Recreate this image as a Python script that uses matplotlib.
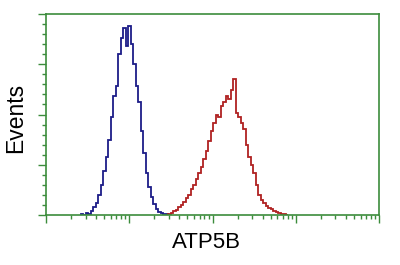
import numpy as np
import matplotlib
matplotlib.use("Agg")
import matplotlib.pyplot as plt
from matplotlib.ticker import MultipleLocator, LogLocator, NullFormatter

# histogram bins in log10 units
bin_width = 0.03

blue_start = 0.42
blue_counts = [1, 0, 2, 1, 4, 8, 12, 20, 30, 44, 58, 75, 98, 118, 128, 160, 176, 186,
               168, 188, 170, 150, 128, 112, 84, 62, 42, 28, 18, 11, 6, 3, 2, 1, 1, 0]

red_start = 1.47
red_counts = [1, 2, 4, 5, 8, 10, 13, 17, 20, 26, 30, 36, 42, 48, 56, 64, 74, 84, 92, 100,
              98, 108, 112, 118, 115, 124, 135, 102, 98, 92, 86, 70, 58, 50, 42, 30, 20, 15,
              12, 9, 7, 6, 4, 3, 2, 1, 1, 0]

xlabel = "ATP5B"
ylabel = "Events"

green = "#3c8c3c"

fig = plt.figure(figsize=(4, 2.65), dpi=100)
ax = fig.add_axes([0.115, 0.1887, 0.8325, 0.7583])

def edges(start, n):
    return 10 ** (start + bin_width * np.arange(n + 1))

ax.stairs(blue_counts, edges(blue_start, len(blue_counts)), color="#1c1c88", lw=1.3)
ax.stairs(red_counts, edges(red_start, len(red_counts)), color="#b02222", lw=1.3)

ax.set_xscale("log")
ax.set_xlim(1, 1e4)
ax.set_ylim(0, 200)

ax.xaxis.set_major_locator(LogLocator(base=10, numticks=10))
ax.xaxis.set_minor_locator(LogLocator(base=10, subs=np.arange(2, 10), numticks=10))
ax.xaxis.set_major_formatter(NullFormatter())
ax.xaxis.set_minor_formatter(NullFormatter())
ax.yaxis.set_major_locator(MultipleLocator(50))
ax.yaxis.set_minor_locator(MultipleLocator(10))
ax.yaxis.set_major_formatter(NullFormatter())

ax.tick_params(axis="both", which="major", length=6, width=1.0, color=green, direction="out")
ax.tick_params(axis="both", which="minor", length=3, width=1.0, color=green, direction="out")

for s in ax.spines.values():
    s.set_color(green)
    s.set_linewidth(1.2)

fig.text(0.515, 0.085, xlabel, ha="center", va="center", fontsize=16, family="Liberation Sans")
fig.text(0.04, 0.555, ylabel, ha="center", va="center", rotation=90, fontsize=16.5,
         family="Liberation Sans")

fig.savefig("out.png", dpi=100)
